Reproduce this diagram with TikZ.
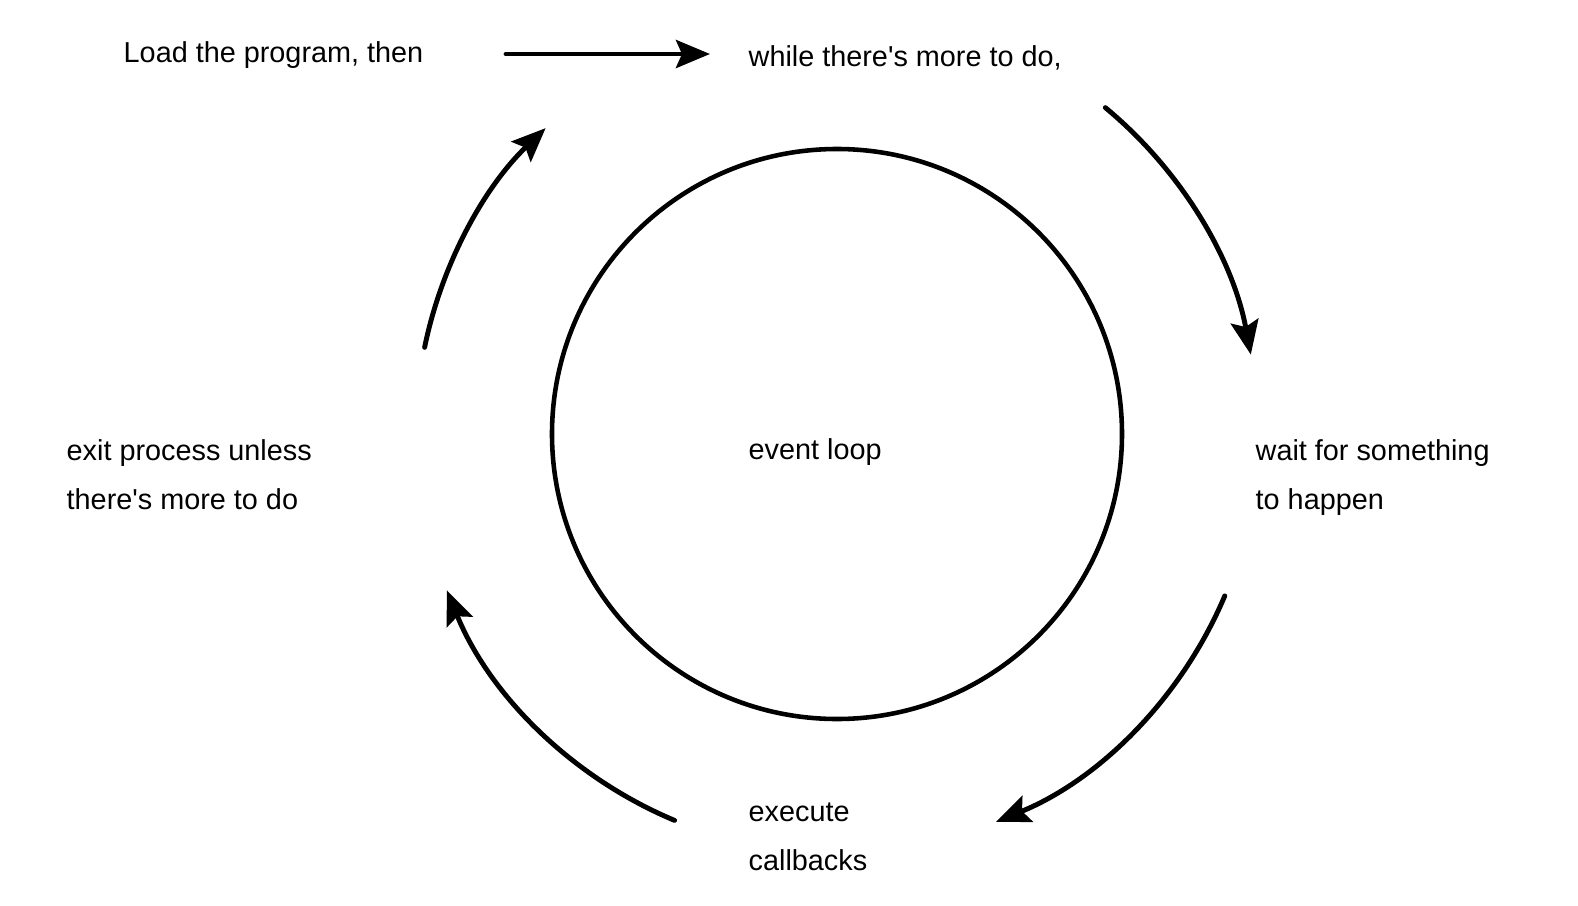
\documentclass[tikz,border=0pt]{standalone}
\usepackage{fontspec}
\setmainfont{Liberation Sans}[Ligatures=TeXOff]
\usetikzlibrary{arrows.meta}
\tikzset{
  lbl/.style={inner sep=0pt, anchor=base west, align=left,
    font=\fontsize{8.2pt}{13.9pt}\selectfont},
  flow/.style={line width=1.4pt, line cap=round,
    -{Stealth[length=0.34cm,width=0.28cm,inset=0.06cm]}},
  ring/.style={line width=1.3pt}
}
\begin{document}
\begin{tikzpicture}
\useasboundingbox (0,0) rectangle (15.78,-9.06);
% central circle
\node[ring, draw, circle, minimum size=5.7cm, inner sep=0pt] (loop) at (8.37,-4.34) {};
% labels (base = baseline of the last line)
\node[lbl] (load) at (1.23,-0.62) {Load the program, then};
\node[lbl] (while) at (7.48,-0.667) {while there's more to do,};
\node[lbl] (wait) at (12.55,-5.09) {wait for something\\to happen};
\node[lbl] (event) at (7.48,-4.59) {event loop};
\node[lbl] (exec) at (7.48,-8.707) {execute\\callbacks};
\node[lbl] (exit) at (0.66,-5.09) {exit process unless\\there's more to do};
% connector ends
\coordinate (arcC) at (8.37,-4.32);
\coordinate (s0) at (5.06,-0.54);
\coordinate (e0) at (7.10,-0.54);
\coordinate (s1) at ([shift={(50.4:4.21)}]arcC);
\coordinate (s2) at ([shift={(-22.9:4.21)}]arcC);
\coordinate (s3) at ([shift={(247.3:4.21)}]arcC);
\coordinate (s4) at ([shift={(168.4:4.21)}]arcC);
% connectors
\draw[flow] (s0) -- (e0);
\draw[flow] (s1) arc[start angle=50.4, end angle=10.6, radius=4.21];
\draw[flow] (s2) arc[start angle=-22.9, end angle=-67.8, radius=4.21];
\draw[flow] (s3) arc[start angle=247.3, end angle=202.1, radius=4.21];
\draw[flow] (s4) arc[start angle=168.4, end angle=133.8, radius=4.21];
\end{tikzpicture}
\end{document}
